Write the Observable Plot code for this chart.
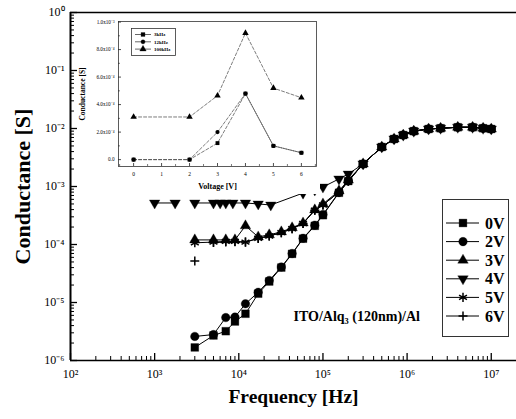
<!DOCTYPE html>
<html><head><meta charset="utf-8">
<script src="https://cdn.jsdelivr.net/npm/d3@7"></script>
<script src="https://cdn.jsdelivr.net/npm/@observablehq/plot@0.6"></script>
<style>
html,body{margin:0;padding:0;background:#fff;}
#wrap{position:relative;width:516px;height:419px;overflow:hidden;font-family:"Liberation Serif","Times New Roman",serif;background:#fff;}
#wrap > svg{position:absolute;}
</style></head><body><div id="wrap"></div>
<script>
// ---------------- data (main chart) ----------------
const seriesNames = ["0V","2V","3V","4V","5V","6V"];
const freqHz = [3e3,5e3,7e3,9e3,1.2e4,1.7e4,2.3e4,3.2e4,4.3e4,5.8e4,8e4,1e5,1.55e5,2e5,3e5,5e5,7e5,9e5,1.2e6,1.8e6,2.5e6,4e6,6e6,8e6,1e7];
const freq4V = [1e3,1.75e3,3e3,5e3,6e3,7e3,8.5e3,1.2e4,1.7e4,2.4e4,5.8e4,8e4,1e5,1.55e5,2e5,3e5,5e5,7e5,9e5,1.2e6,1.8e6,2.5e6,4e6,6e6,8e6,1e7];
const g0V = [1.68e-6,2.7e-6,3.2e-6,4.7e-6,6.4e-6,1.42e-5,2.3e-5,4.0e-5,6.9e-5,1.26e-4,2.1e-4,3.2e-4,7.8e-4,1.24e-3,2.45e-3,4.8e-3,6.6e-3,7.7e-3,9.0e-3,9.8e-3,1.01e-2,1.05e-2,1.05e-2,1.01e-2,9.8e-3];
const g2V = [2.6e-6,2.8e-6,5.5e-6,5.6e-6,9.5e-6,1.5e-5,2.4e-5,4.1e-5,7.0e-5,1.28e-4,2.15e-4,3.3e-4,7.9e-4,1.25e-3,2.45e-3,4.8e-3,6.6e-3,7.7e-3,9.0e-3,9.8e-3,1.01e-2,1.05e-2,1.05e-2,1.01e-2,9.8e-3];
const g3V = [1.2e-4,1.2e-4,1.2e-4,1.2e-4,2.1e-4,1.35e-4,1.47e-4,1.65e-4,1.94e-4,2.35e-4,3.95e-4,5.0e-4,8.4e-4,1.29e-3,2.45e-3,4.8e-3,6.6e-3,7.7e-3,9.0e-3,9.8e-3,1.01e-2,1.05e-2,1.05e-2,1.01e-2,9.8e-3];
const g4V = [5.2e-4,5.2e-4,5.2e-4,5.2e-4,5.2e-4,5.2e-4,5.2e-4,5.2e-4,5.0e-4,4.8e-4,7.7e-4,8.7e-4,9.8e-4,1.35e-3,1.64e-3,2.45e-3,4.8e-3,6.6e-3,7.7e-3,9.0e-3,9.8e-3,1.01e-2,1.05e-2,1.05e-2,1.01e-2,9.8e-3];
const g5V = [1.07e-4,1.1e-4,1.13e-4,1.13e-4,1.1e-4,1.28e-4,1.4e-4,1.6e-4,1.87e-4,2.3e-4,3.9e-4,4.8e-4,8.0e-4,1.24e-3,2.45e-3,4.8e-3,6.6e-3,7.7e-3,9.0e-3,9.8e-3,1.01e-2,1.05e-2,1.05e-2,1.01e-2,9.8e-3];
const g6V = [5.2e-5,1.08e-4,1.1e-4,1.12e-4,1.1e-4,1.27e-4,1.4e-4,1.6e-4,1.87e-4,2.3e-4,3.9e-4,4.8e-4,8.0e-4,1.24e-3,2.45e-3,4.8e-3,6.6e-3,7.7e-3,9.0e-3,9.8e-3,1.01e-2,1.05e-2,1.05e-2,1.01e-2,9.8e-3];
const lineBreakAfter = [null,null,null,1.75e3,null,3e3];
const xMajorTicks = [1e2,1e3,1e4,1e5,1e6,1e7];
const yMajorTicks = [1e-6,1e-5,1e-4,1e-3,1e-2,1e-1,1];
const annotationText = "ITO/Alq₃ (120nm)/Al";
const xLabel = "Frequency [Hz]";
const yLabel = "Conductance [S]";

// ---------------- data (inset) ----------------
const insetNames = ["3kHz","12kHz","100kHz"];
const insetVoltage = [0,2,3,4,5,6];
const inset3k = [0,0,1.2e-4,4.8e-4,1.0e-4,0.5e-4];
const inset12k = [0,0,2.0e-4,4.8e-4,1.0e-4,0.5e-4];
const inset100k = [3.1e-4,3.1e-4,4.65e-4,9.2e-4,5.2e-4,4.5e-4];
const insetXTicks = [0,1,2,3,4,5,6];
const insetYTicks = [0,2e-4,4e-4,6e-4,8e-4,1e-3];
const insetXLabel = "Voltage [V]";
const insetYLabel = "Conductance [S]";

// ---------------- helpers ----------------
const SUP = {"-":"⁻","0":"⁰","1":"¹","2":"²","3":"³","4":"⁴","5":"⁵","6":"⁶","7":"⁷","8":"⁸","9":"⁹"};
const supStr = s => String(s).replace(/./g, c => SUP[c] ?? c);
const pow10 = v => "10" + supStr(Math.round(Math.log10(v)));
const triDown = {draw(ctx, size){ const s3=Math.sqrt(3); const y=-Math.sqrt(size/(s3*3)); ctx.moveTo(0,-y*2); ctx.lineTo(-s3*y,y); ctx.lineTo(s3*y,y); ctx.closePath(); }};
const symSpec = {
  "0V":{sym:"square", d3:d3.symbolSquare, r:4.4, filled:true},
  "2V":{sym:"circle", d3:d3.symbolCircle, r:4.3, filled:true},
  "3V":{sym:"triangle", d3:d3.symbolTriangle, r:3.9, filled:true},
  "4V":{sym:triDown, d3:triDown, r:3.9, filled:true},
  "5V":{sym:"asterisk", d3:d3.symbolAsterisk, r:4.3, filled:false},
  "6V":{sym:"plus", d3:d3.symbolPlus, r:3.0, filled:false}
};
const FONT = '"Liberation Serif","Times New Roman",serif';

// ---------------- main chart ----------------
const W=516, H=419, mL=70, mR=0, mT=12, mB=59;
const fW = W-mL-mR, fH = H-mT-mB;
const seriesFreq = [freqHz,freqHz,freqHz,freq4V,freqHz,freqHz];
const seriesG = [g0V,g2V,g3V,g4V,g5V,g6V];
const rows = seriesNames.flatMap((s,i)=>seriesFreq[i].map((f,j)=>({series:s, f, g:seriesG[i][j],
  seg: s + (lineBreakAfter[i] != null && f > lineBreakAfter[i] ? "b" : "a")})));

const xMinor = [], yMinor = [];
for (let e=2;e<=7;e++) for (let k=2;k<=9;k++){ const v=k*10**e; if (Math.log10(v)<=7.3) xMinor.push(v); }
for (let e=-6;e<0;e++) for (let k=2;k<=9;k++) yMinor.push(k*10**e);

const seriesMarks = seriesNames.flatMap(s => {
  const sp = symSpec[s];
  return [
    Plot.line(rows, {filter:d=>d.series===s, x:"f", y:"g", z:"seg", stroke:"black", strokeWidth:1}),
    Plot.dot(rows, {filter:d=>d.series===s, x:"f", y:"g", symbol:sp.sym, r:sp.r,
      fill: sp.filled ? "black" : "none", stroke:"black", strokeWidth: sp.filled ? 0.3 : 1.5})
  ];
});

const main = Plot.plot({
  width:W, height:H, marginLeft:mL, marginRight:mR, marginTop:mT, marginBottom:mB,
  x:{type:"log", domain:[1e2, 10**7.3]},
  y:{type:"log", domain:[1e-6, 1]},
  style:{fontFamily:FONT, fontSize:"12px", color:"black", background:"transparent", overflow:"visible"},
  marks:[
    Plot.ruleX(xMinor, {insetTop:fH-4, stroke:"black", strokeWidth:1}),
    Plot.ruleX(xMajorTicks, {insetTop:fH-7, stroke:"black", strokeWidth:1.3}),
    Plot.ruleY(yMinor, {insetRight:fW-4, stroke:"black", strokeWidth:1}),
    Plot.ruleY(yMajorTicks, {insetRight:fW-7, stroke:"black", strokeWidth:1.3}),
    Plot.ruleY([1e-6], {stroke:"black", strokeWidth:1.6}),
    Plot.ruleY([1], {stroke:"black", strokeWidth:1.4}),
    Plot.ruleX([1e2], {stroke:"black", strokeWidth:2}),
    Plot.axisX(xMajorTicks, {tickSize:0, tickPadding:9, tickFormat:pow10, label:null, fontSize:12}),
    Plot.axisY(yMajorTicks, {tickSize:0, tickPadding:6, tickFormat:pow10, label:null, fontSize:12}),
    ...seriesMarks,
    Plot.text([annotationText], {frameAnchor:"bottom-right", dx:-223, dy:-40, textAnchor:"start", lineAnchor:"bottom", fontWeight:"bold", fontSize:14}),
    Plot.text([xLabel], {frameAnchor:"bottom", dy:42, lineAnchor:"bottom", fontWeight:"bold", fontSize:19.5}),
    Plot.text([yLabel], {frameAnchor:"left", dx:-48, rotate:-90, textAnchor:"middle", fontWeight:"bold", fontSize:22})
  ]
});
main.style.left="0px"; main.style.top="0px";
document.getElementById("wrap").appendChild(main);

// ---------------- inset ----------------
const insetSeries = [inset3k, inset12k, inset100k];
const insetSym = {"3kHz":{sym:"square", d3:d3.symbolSquare, r:2.2}, "12kHz":{sym:"circle", d3:d3.symbolCircle, r:2.1}, "100kHz":{sym:"triangle", d3:d3.symbolTriangle, r:2.4}};
const insetRows = insetNames.flatMap((n,i)=>insetVoltage.map((v,j)=>({name:n, v, g:insetSeries[i][j]})));
const iW=242, iH=180, imL=40, imR=4, imT=7, imB=28;
const ifW=iW-imL-imR, ifH=iH-imT-imB;
const insetXMinor = d3.range(-0.5, 6.6, 0.5).filter(v=>!Number.isInteger(v));
const insetYMinor = d3.range(1e-4, 1e-3, 2e-4);
const insetFmt = v => { if (v===0) return "0.0"; const e=Math.floor(Math.log10(v)+1e-9); return (v/10**e).toFixed(1)+"x10"+supStr(e); };
const inset = Plot.plot({
  width:iW, height:iH, marginLeft:imL, marginRight:imR, marginTop:imT, marginBottom:imB,
  x:{domain:[-0.54, 6.54]},
  y:{domain:[-0.5e-4, 1.004e-3]},
  style:{fontFamily:FONT, fontSize:"6px", color:"black", background:"white", overflow:"visible"},
  marks:[
    Plot.frame({stroke:"#333", strokeWidth:0.8}),
    Plot.ruleX(insetXTicks, {insetTop:ifH-3, stroke:"#222", strokeWidth:0.8}),
    Plot.ruleX(insetXMinor, {insetTop:ifH-2, stroke:"#222", strokeWidth:0.6}),
    Plot.ruleY(insetYTicks, {insetRight:ifW-3, stroke:"#222", strokeWidth:0.8}),
    Plot.ruleY(insetYMinor, {insetRight:ifW-2, stroke:"#222", strokeWidth:0.6}),
    Plot.axisX(insetXTicks, {tickSize:0, tickPadding:6, label:null, fontSize:5.5}),
    Plot.axisY(insetYTicks, {tickSize:0, tickPadding:4, tickFormat:insetFmt, label:null, fontSize:5.2}),
    ...insetNames.flatMap(n => [
      Plot.line(insetRows, {filter:d=>d.name===n, x:"v", y:"g", stroke:"#444", strokeWidth:0.7, strokeDasharray:"3,2"}),
      Plot.dot(insetRows, {filter:d=>d.name===n, x:"v", y:"g", symbol:insetSym[n].sym, r:insetSym[n].r, fill:"black"})
    ]),
    Plot.text([insetXLabel], {frameAnchor:"bottom", dy:22, lineAnchor:"bottom", fontWeight:"bold", fontSize:8}),
    Plot.text([insetYLabel], {frameAnchor:"left", dx:-36, rotate:-90, textAnchor:"middle", fontWeight:"bold", fontSize:7.5})
  ]
});
inset.style.left="78px"; inset.style.top="14px";
document.getElementById("wrap").appendChild(inset);

// ---------------- legends ----------------
function makeLegend(items, o){
  const svg = d3.create("svg").attr("width",o.w).attr("height",o.h)
    .style("left",o.left+"px").style("top",o.top+"px").style("position","absolute");
  svg.append("rect").attr("x",0.5).attr("y",0.5).attr("width",o.w-1).attr("height",o.h-1)
    .attr("fill","white").attr("stroke","#333").attr("stroke-width",o.bw);
  items.forEach((it,i)=>{
    const y = o.y0 + i*o.dy;
    svg.append("line").attr("x1",o.lx1).attr("x2",o.lx2).attr("y1",y).attr("y2",y).attr("stroke","black").attr("stroke-width",o.lw);
    svg.append("path").attr("transform",`translate(${o.sx},${y})`)
      .attr("d", d3.symbol().type(it.d3).size(Math.PI*it.r*it.r)())
      .attr("fill", it.filled===false ? "none" : "black").attr("stroke","black").attr("stroke-width", it.filled===false ? 1.5 : 0.3);
    svg.append("text").attr("x",o.tx).attr("y",y).attr("dy","0.35em").attr("font-family",FONT)
      .attr("font-weight","bold").attr("font-size",o.fs).text(it.label);
  });
  document.getElementById("wrap").appendChild(svg.node());
}
makeLegend(insetNames.map(n=>({label:n, ...insetSym[n]})),
  {left:131, top:28, w:45, h:28, y0:6.5, dy:7.3, lx1:4, lx2:20, sx:12, tx:23, fs:5, lw:0.6, bw:0.8});
makeLegend(seriesNames.map(n=>({label:n, ...symSpec[n]})),
  {left:442, top:199, w:67, h:138, y0:24, dy:18.6, lx1:4, lx2:37, sx:21, tx:43, fs:16, lw:1, bw:1});
</script></body></html>
